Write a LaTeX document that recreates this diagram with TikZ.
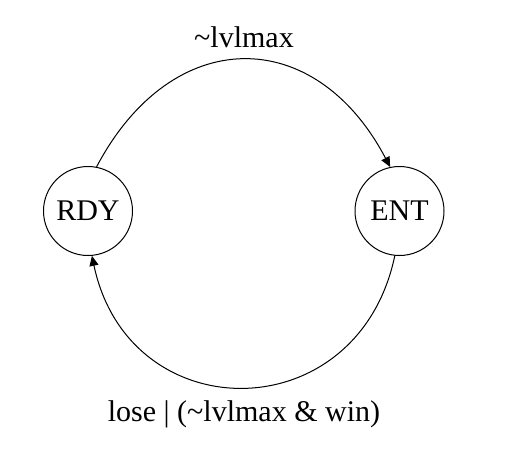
\documentclass[tikz,border=0pt]{standalone}
\usepackage{fontspec}
\setmainfont{Liberation Serif}
\usetikzlibrary{arrows.meta}
\begin{document}
\begin{tikzpicture}[x=1pt,y=-1pt,
  state/.style={draw, circle, line width=1pt, minimum size=89pt, inner sep=0pt, font=\fontsize{30}{36}\selectfont},
  lbl/.style={anchor=base, inner sep=0pt, font=\fontsize{30}{36}\selectfont},
  arr/.style={line width=1pt, -{Triangle[length=10pt,width=9pt]}}]
\useasboundingbox (0,0) rectangle (512,456);
\node[state] (rdy) at (88,211) {RDY};
\node[state] (ent) at (399.5,211) {ENT};
\node[lbl] (top) at (244,47) {\textasciitilde lvlmax};
\node[lbl] (bot) at (244,421) {lose | (\textasciitilde lvlmax \& win)};
\draw[arr] (rdy.79) .. controls (172,24) and (315,24) .. (ent.102);
\draw[arr] (ent.264) .. controls (358,431) and (129,431) .. (rdy.275);
\end{tikzpicture}
\end{document}
